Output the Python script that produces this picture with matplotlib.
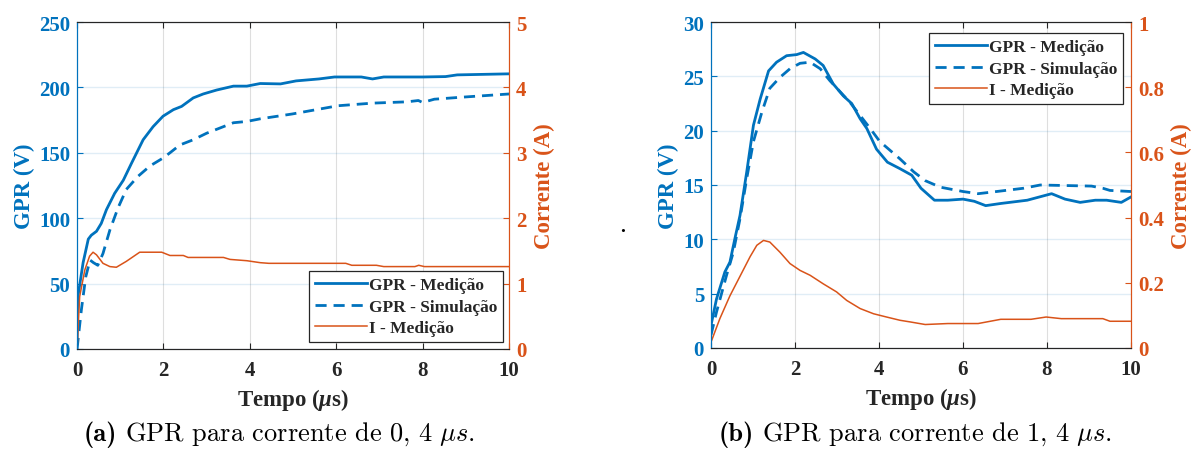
import matplotlib
matplotlib.use("Agg")
import matplotlib.pyplot as plt
from matplotlib.lines import Line2D

plt.rcParams["font.family"] = ["Liberation Serif", "DejaVu Serif"]
plt.rcParams["font.weight"] = "bold"
plt.rcParams["mathtext.fontset"] = "custom"
plt.rcParams["mathtext.rm"] = "Liberation Serif:bold"
plt.rcParams["mathtext.it"] = "Liberation Serif:italic:bold"
plt.rcParams["mathtext.bf"] = "Liberation Serif:bold"

BLUE = "#0072BD"
ORANGE = "#D95319"
DARK = "#262626"

# (a) pulse 0,4 us
t_med_a = [0, 0.02, 0.14, 0.26, 0.33, 0.45, 0.56, 0.68, 0.87, 1.07, 1.26, 1.53, 1.76,
           1.99, 2.23, 2.42, 2.69, 2.92, 3.23, 3.62, 3.93, 4.24, 4.71, 5.07, 5.6, 5.96,
           6.58, 6.84, 7.1, 8.0, 8.53, 8.8, 10.0]
gpr_med_a = [5, 40, 66, 84, 87, 90, 96, 106.5, 119, 129, 142, 160, 170,
             178, 183, 185.5, 192, 195, 198, 201, 201, 203, 202.7, 205, 206.5, 208,
             208, 206.5, 208, 208, 208.3, 209.6, 210.4]

t_sim_a = [0, 0.1, 0.2, 0.3, 0.38, 0.48, 0.6, 0.76, 0.95, 1.14, 1.41, 1.69, 1.99, 2.15,
           2.38, 2.69, 3.0, 3.31, 3.62, 3.93, 4.24, 4.98, 6.04, 6.84, 7.64, 7.9, 8.0,
           8.27, 8.89, 10.0]
gpr_sim_a = [0, 30, 55, 68, 66, 64, 73, 91, 108, 122, 132, 140, 146, 150,
             156, 160, 165, 169, 173, 174, 176, 179.7, 186, 188, 189, 190, 188.5,
             191, 192.5, 195]

t_cur_a = [0, 0.06, 0.18, 0.29, 0.37, 0.45, 0.6, 0.76, 0.91, 1.14, 1.45, 1.96, 2.15,
           2.46, 2.57, 3.39, 3.54, 3.93, 4.24, 4.44, 6.22, 6.36, 6.93, 7.1, 7.82, 7.91,
           8.04, 10.0]
cur_a = [0, 0.8, 1.21, 1.42, 1.48, 1.44, 1.31, 1.26, 1.25, 1.34, 1.48, 1.48, 1.43,
         1.43, 1.40, 1.40, 1.37, 1.35, 1.32, 1.31, 1.31, 1.28, 1.28, 1.26, 1.26, 1.28,
         1.26, 1.26]

# (b) pulse 1,4 us
t_med_b = [0, 0.13, 0.33, 0.45, 0.57, 0.69, 0.85, 1.01, 1.17, 1.37, 1.56, 1.8, 2.04,
           2.2, 2.48, 2.67, 2.91, 3.15, 3.35, 3.55, 3.71, 3.94, 4.2, 4.5, 4.78, 5.0,
           5.32, 5.64, 6.0, 6.27, 6.54, 6.9, 7.53, 8.11, 8.43, 8.79, 9.15, 9.42, 9.77, 10.0]
gpr_med_b = [2.1, 4.5, 7.0, 7.9, 10.1, 12.2, 16.2, 20.5, 22.9, 25.5, 26.3, 26.9, 27.0,
             27.2, 26.6, 26.0, 24.3, 23.2, 22.5, 21.1, 20.2, 18.3, 17.1, 16.5, 15.9, 14.7,
             13.6, 13.6, 13.7, 13.5, 13.1, 13.3, 13.6, 14.2, 13.7, 13.4, 13.6, 13.6, 13.4, 13.9]

t_sim_b = [0, 0.13, 0.37, 0.53, 0.69, 0.85, 1.01, 1.21, 1.4, 1.64, 1.88, 2.12, 2.36,
           2.6, 2.83, 3.07, 3.31, 3.55, 3.79, 4.02, 4.5, 4.83, 5.1, 5.46, 6.0, 6.36,
           6.8, 7.44, 7.84, 9.06, 9.33, 9.5, 10.0]
gpr_sim_b = [1.2, 3.3, 6.7, 8.8, 11.9, 15.6, 19.0, 21.7, 23.9, 24.9, 25.7, 26.2, 26.3,
             25.7, 24.6, 23.6, 22.6, 21.4, 20.2, 19.0, 17.4, 16.2, 15.4, 14.8, 14.4, 14.2,
             14.4, 14.7, 15.0, 14.9, 14.7, 14.5, 14.4]

t_cur_b = [0, 0.21, 0.45, 0.61, 0.73, 0.93, 1.09, 1.25, 1.4, 1.64, 1.88, 2.12, 2.36,
           2.67, 2.99, 3.23, 3.55, 3.87, 4.18, 4.5, 4.74, 5.1, 5.64, 6.36, 6.9, 7.62,
           7.98, 8.34, 9.33, 9.5, 10.0]
cur_b = [0.018, 0.09, 0.16, 0.2, 0.23, 0.28, 0.315, 0.33, 0.325, 0.294, 0.259, 0.238,
         0.223, 0.197, 0.172, 0.146, 0.121, 0.105, 0.095, 0.085, 0.08, 0.072, 0.075,
         0.075, 0.088, 0.088, 0.095, 0.09, 0.09, 0.082, 0.082]

xticks = [0, 2, 4, 6, 8, 10]
labels = ["GPR - Medição", "GPR - Simulação", "I - Medição"]

fig = plt.figure(figsize=(11.91, 4.52), dpi=100)


def caption(x_split, tag, rest):
    # bold tag in cmb10, body in cmr10 with the unit in math italic
    fig.text(x_split, 0.025, tag, ha="right", va="baseline", fontsize=19,
             family="cmb10", weight="normal", color="black")
    fig.text(x_split + 0.007, 0.025, rest, ha="left", va="baseline", fontsize=19,
             family="cmr10", weight="normal", math_fontfamily="cm", color="black")


def panel(rect, t_m, g_m, t_s, g_s, t_c, c, gmax, gticks, cmax, cticks,
          leg_loc, leg_anchor):
    ax = fig.add_axes(rect)
    ax2 = ax.twinx()
    ax.plot(t_m, g_m, "-", color=BLUE, lw=2.0)
    ax.plot(t_s, g_s, "--", color=BLUE, lw=2.0, dashes=(4, 2.5))
    ax2.plot(t_c, c, "-", color=ORANGE, lw=1.1)

    ax.set_xlim(0, 10)
    ax.set_ylim(0, gmax)
    ax2.set_ylim(0, cmax)
    ax.set_xticks(xticks)
    ax.set_yticks(gticks)
    ax2.set_yticks(cticks)
    ax2.set_yticklabels([f"{v:g}" for v in cticks])

    ax.xaxis.grid(True, color=DARK, alpha=0.15, lw=0.8)
    ax.yaxis.grid(True, color=BLUE, alpha=0.12, lw=1.0)
    ax.set_axisbelow(True)

    ax.tick_params(axis="x", direction="in", length=4, color=DARK, top=True,
                   labelsize=15, labelcolor=DARK, pad=8)
    ax.tick_params(axis="y", direction="in", length=4, color=BLUE,
                   labelsize=15, labelcolor=BLUE, pad=5)
    ax2.tick_params(axis="y", direction="in", length=4, color=ORANGE,
                    labelsize=15, labelcolor=ORANGE, pad=5)
    for a in (ax, ax2):
        a.spines["top"].set_color(DARK)
        a.spines["bottom"].set_color(DARK)
        a.spines["left"].set_color(BLUE)
        a.spines["right"].set_color(ORANGE)

    ax.set_xlabel(r"Tempo ($\mu$s)", fontsize=16.5, fontweight="bold",
                  color=DARK, labelpad=4)
    ax.set_ylabel("GPR (V)", fontsize=16.5, fontweight="bold", color=BLUE,
                  labelpad=3)
    ax2.set_ylabel("Corrente (A)", fontsize=16.5, fontweight="bold",
                   color=ORANGE, labelpad=5)

    handles = [Line2D([], [], color=BLUE, lw=2.0),
               Line2D([], [], color=BLUE, lw=2.0, ls="--", dashes=(4, 2.5)),
               Line2D([], [], color=ORANGE, lw=1.1)]
    leg = ax2.legend(handles, labels, loc=leg_loc, bbox_to_anchor=leg_anchor,
                     prop={"size": 12.5, "weight": "bold"}, handlelength=3.0,
                     handletextpad=0.1, labelspacing=0.3, borderpad=0.35,
                     borderaxespad=0, fancybox=False, framealpha=1,
                     edgecolor=DARK)
    leg.get_frame().set_linewidth(0.9)
    for txt in leg.get_texts():
        txt.set_color(DARK)
    return ax, ax2


panel([0.0647, 0.2257, 0.3627, 0.7233], t_med_a, gpr_med_a, t_sim_a, gpr_sim_a,
      t_cur_a, cur_a, 250, [0, 50, 100, 150, 200, 250], 5, [0, 1, 2, 3, 4, 5],
      "lower right", (0.986, 0.021))
caption(0.098, "(a)", r"GPR para corrente de $0,\,4\ \mu s$.")

panel([0.597, 0.2279, 0.3526, 0.7212], t_med_b, gpr_med_b, t_sim_b, gpr_sim_b,
      t_cur_b, cur_b, 30, [0, 5, 10, 15, 20, 25, 30], 1, [0, 0.2, 0.4, 0.6, 0.8, 1],
      "upper right", (0.981, 0.966))
caption(0.633, "(b)", r"GPR para corrente de $1,\,4\ \mu s$.")

fig.text(0.523, 0.487, ".", fontsize=14, color="black", ha="center")

fig.savefig("out.png", dpi=100)
